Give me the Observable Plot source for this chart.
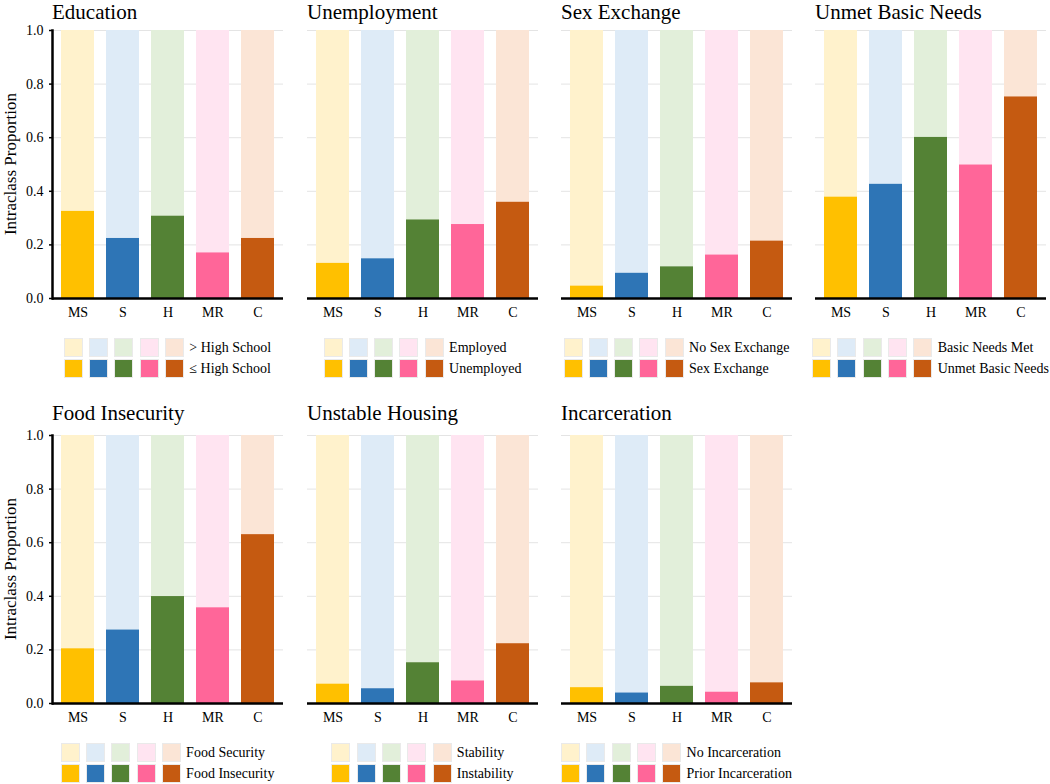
<!DOCTYPE html>
<html>
<head>
<meta charset="utf-8">
<script src="https://cdn.jsdelivr.net/npm/d3@7"></script>
<script src="https://cdn.jsdelivr.net/npm/@observablehq/plot@0.6"></script>
<style>
  html, body { margin: 0; padding: 0; background: #fff; }
  #root { position: relative; width: 1050px; height: 784px; font-family: "Liberation Serif", "Times New Roman", serif; color: #000; }
  .panel-title { position: absolute; font-size: 21px; line-height: 24px; white-space: nowrap; }
  .plotbox { position: absolute; }
  .ylabel { position: absolute; font-size: 17px; line-height: 17px; white-space: nowrap; transform: translate(-50%, -50%) rotate(-90deg); }
  .legend { position: absolute; display: flex; justify-content: center; }
  .legend .rows { display: flex; flex-direction: column; gap: 2px; }
  .legend .row { display: flex; align-items: center; height: 19px; }
  .legend .sw { width: 17px; height: 17px; border: 1px solid #eaeaea; margin-right: 6.3px; }
  .legend .lab { font-size: 14px; margin-left: -1px; white-space: nowrap; }
</style>
</head>
<body>
<div id="root"></div>
<script>
// ---- data ----
const classes = ["MS", "S", "H", "MR", "C"];
const darkColors = ["#FFC000", "#2E75B6", "#548235", "#FF6699", "#C55A11"];
const lightColors = ["#FFF2CC", "#DEEBF7", "#E2EFDA", "#FFE4F1", "#FBE5D6"];

const panelTitles = ["Education", "Unemployment", "Sex Exchange", "Unmet Basic Needs",
                     "Food Insecurity", "Unstable Housing", "Incarceration"];
const lightLabels = ["> High School", "Employed", "No Sex Exchange", "Basic Needs Met",
                     "Food Security", "Stability", "No Incarceration"];
const darkLabels = ["≤ High School", "Unemployed", "Sex Exchange", "Unmet Basic Needs",
                    "Food Insecurity", "Instability", "Prior Incarceration"];

const educationValues      = [0.325, 0.224, 0.307, 0.170, 0.224];
const unemploymentValues   = [0.131, 0.148, 0.293, 0.276, 0.359];
const sexExchangeValues    = [0.046, 0.094, 0.118, 0.162, 0.214];
const unmetNeedsValues     = [0.378, 0.426, 0.601, 0.498, 0.752];
const foodInsecurityValues = [0.204, 0.274, 0.399, 0.357, 0.630];
const unstableHousingValues= [0.072, 0.055, 0.152, 0.084, 0.223];
const incarcerationValues  = [0.059, 0.039, 0.064, 0.042, 0.077];

const yTicks = [0, 0.2, 0.4, 0.6, 0.8, 1.0];
const yLabel = "Intraclass Proportion";

const allValues = [educationValues, unemploymentValues, sexExchangeValues, unmetNeedsValues,
                   foodInsecurityValues, unstableHousingValues, incarcerationValues];

// ---- layout ----
const colX = [52, 307, 561, 815];
const rowTop = [30, 435];
const titleTop = [0, 401];
const plotW = 231, plotH = 268;
const mTop = 8, mBottom = 30, mRight = 4;

const root = document.getElementById("root");

allValues.forEach((vals, i) => {
  const col = i % 4, row = Math.floor(i / 4);
  const px = colX[col], py = rowTop[row];
  const mLeft = col === 0 ? 52 : 8;
  const data = classes.map((c, k) => ({cls: c, value: vals[k], full: 1, light: lightColors[k], dark: darkColors[k]}));

  const marks = [
    Plot.gridY(yTicks.filter(d => d > 0), {stroke: "#e4e4e4", strokeOpacity: 1, strokeWidth: 1}),
    Plot.barY(data, {x: "cls", y: "full", fill: "light"}),
    Plot.barY(data, {x: "cls", y: "value", fill: "dark"}),
    Plot.ruleY([0], {stroke: "#000", strokeWidth: 2.5}),
    Plot.axisX({tickSize: 0, tickPadding: 9, label: null, fontSize: 14})
  ];
  if (col === 0) {
    marks.push(Plot.axisY({ticks: yTicks, tickFormat: d3.format(".1f"), tickSize: 3, tickPadding: 6, label: null, fontSize: 14, strokeWidth: 1.5}));
    marks.push(Plot.frame({anchor: "left", stroke: "#000", strokeWidth: 2.5}));
  }

  const chart = Plot.plot({
    width: mLeft + plotW + mRight,
    height: mTop + plotH + mBottom,
    marginLeft: mLeft, marginRight: mRight, marginTop: mTop, marginBottom: mBottom,
    style: {fontFamily: "'Liberation Serif', 'Times New Roman', serif", fontSize: "14px", color: "#000", background: "transparent"},
    x: {domain: classes, paddingInner: 0.26, paddingOuter: 0.15, label: null, axis: null},
    y: {domain: [0, 1], label: null, axis: null},
    color: {type: "identity"},
    marks
  });

  const box = document.createElement("div");
  box.className = "plotbox";
  box.style.left = (px - mLeft) + "px";
  box.style.top = (py - mTop) + "px";
  box.appendChild(chart);
  root.appendChild(box);

  const t = document.createElement("div");
  t.className = "panel-title";
  t.textContent = panelTitles[i];
  t.style.left = px + "px";
  t.style.top = titleTop[row] + "px";
  root.appendChild(t);

  if (col === 0) {
    const yl = document.createElement("div");
    yl.className = "ylabel";
    yl.textContent = yLabel;
    yl.style.left = "9.5px";
    yl.style.top = (py + plotH / 2) + "px";
    root.appendChild(yl);
  }

  const lg = document.createElement("div");
  lg.className = "legend";
  lg.style.left = px + "px";
  lg.style.width = plotW + "px";
  lg.style.top = (py + plotH + 40) + "px";
  const rows = document.createElement("div");
  rows.className = "rows";
  [[lightColors, lightLabels[i]], [darkColors, darkLabels[i]]].forEach(([cols, label]) => {
    const r = document.createElement("div");
    r.className = "row";
    cols.forEach(c => {
      const s = document.createElement("div");
      s.className = "sw";
      s.style.background = c;
      r.appendChild(s);
    });
    const l = document.createElement("span");
    l.className = "lab";
    l.textContent = label;
    r.appendChild(l);
    rows.appendChild(r);
  });
  lg.appendChild(rows);
  root.appendChild(lg);
});
</script>
</body>
</html>
